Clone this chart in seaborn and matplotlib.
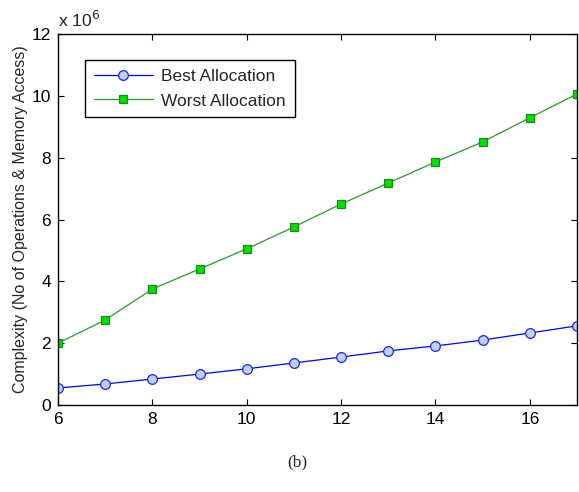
import matplotlib
matplotlib.use("Agg")
import matplotlib.pyplot as plt
import seaborn as sns
import pandas as pd

x_vals = [6, 7, 8, 9, 10, 11, 12, 13, 14, 15, 16, 17]
best = [0.55, 0.68, 0.84, 1.00, 1.17, 1.36, 1.55, 1.75, 1.91, 2.10, 2.33, 2.56]
worst = [2.00, 2.75, 3.75, 4.40, 5.05, 5.76, 6.50, 7.18, 7.86, 8.51, 9.29, 10.06]
series_names = ["Best Allocation", "Worst Allocation"]
x_ticks = [6, 8, 10, 12, 14, 16]
y_ticks = [0, 2, 4, 6, 8, 10, 12]

sns.set_style("ticks")
plt.rcParams['font.family'] = ['Liberation Sans', 'DejaVu Sans']

df = pd.DataFrame({
    "x": x_vals * 2,
    "y": best + worst,
    "series": [series_names[0]] * len(x_vals) + [series_names[1]] * len(x_vals),
})

fig = plt.figure(figsize=(5.79, 4.92), dpi=100)
ax = fig.add_axes([58 / 579, 1 - 405 / 492, 519 / 579, (405 - 34) / 492])

sns.lineplot(data=df[df.series == series_names[0]], x="x", y="y", ax=ax,
             color="#0000ff", lw=0.9, marker="o", markersize=7,
             markerfacecolor="#b9d3f0", markeredgecolor="#2222ff", markeredgewidth=0.9,
             label=series_names[0])
sns.lineplot(data=df[df.series == series_names[1]], x="x", y="y", ax=ax,
             color="#2a9a2a", lw=0.9, marker="s", markersize=6,
             markerfacecolor="#00e000", markeredgecolor="#1a8a1a", markeredgewidth=0.9,
             label=series_names[1])

ax.set_xlim(6, 17)
ax.set_ylim(0, 12)
ax.set_xticks(x_ticks)
ax.set_yticks(y_ticks)
ax.tick_params(direction="in", top=True, right=True, labelsize=12.5, length=4, width=0.8,
               colors="black", pad=5)
for s in ax.spines.values():
    s.set_visible(True)
    s.set_linewidth(1.0)
    s.set_color("black")
ax.set_xlabel("")
ax.set_ylabel("Complexity (No of Operations & Memory Access)", fontsize=11.5, labelpad=3)

ax.text(0.0, 1.012, r"x 10$^{6}$", transform=ax.transAxes, fontsize=12.5, ha="left", va="bottom")

leg = ax.legend(loc="upper left", bbox_to_anchor=(0.052, 0.93), borderaxespad=0,
                fontsize=12.5, frameon=True, fancybox=False, edgecolor="black", framealpha=1,
                borderpad=0.5, handlelength=3.4, labelspacing=0.55, handletextpad=0.5)
leg.get_frame().set_linewidth(1.0)

fig.text(297 / 579, 1 - 462 / 492, "(b)", fontsize=12.5, ha="center", va="center",
         family=["Liberation Serif", "DejaVu Serif"])

fig.savefig("out.png", dpi=100)
